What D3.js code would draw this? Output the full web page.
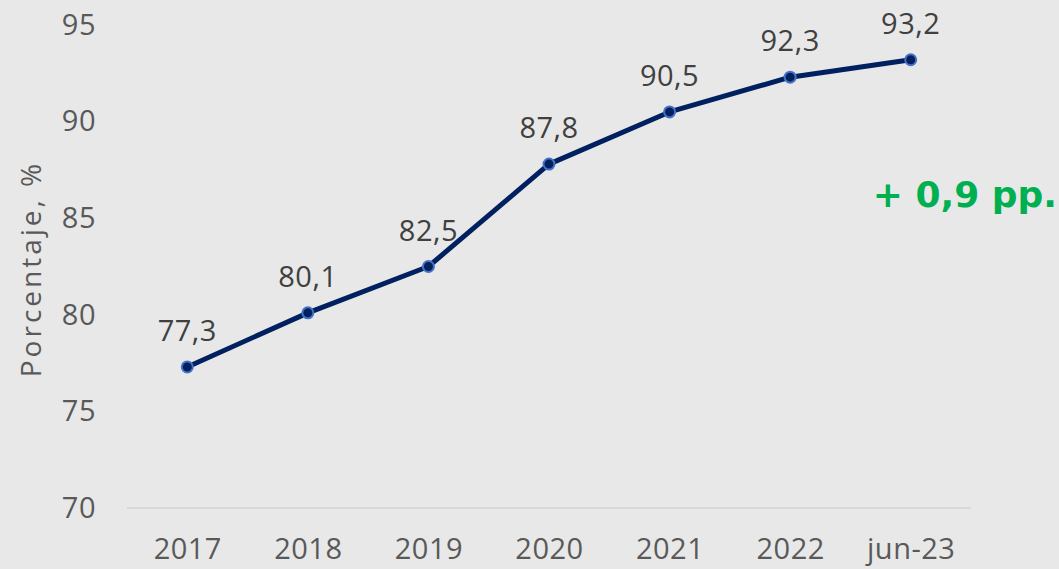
<!DOCTYPE html>
<html><head><meta charset="utf-8">
<script src="https://cdn.jsdelivr.net/npm/d3@7"></script>
<style>
html,body{margin:0;padding:0;background:#e8e8e8;}
svg{display:block;font-family:"Open Sans","Noto Sans",sans-serif;}
</style></head>
<body>
<svg id="chart" width="1059" height="569"></svg>
<script>
const categories = ["2017","2018","2019","2020","2021","2022","jun-23"];
const values = [77.3, 80.1, 82.5, 87.8, 90.5, 92.3, 93.2];
const yTicks = [70, 75, 80, 85, 90, 95];
const yTitle = "Porcentaje, %";
const annotation = "+ 0,9 pp.";

const svg = d3.select("#chart");
svg.append("rect").attr("width",1059).attr("height",569).attr("fill","#e8e8e8");

const x = d3.scalePoint().domain(categories).range([127, 971]).padding(0.5);
const y = d3.scaleLinear().domain([70, 95]).range([508, 25]);
const fmt = v => d3.format(".1f")(v).replace(".", ",");
const textColor = "#595959";

// baseline axis line
svg.append("line").attr("x1",127).attr("x2",971).attr("y1",y(70)).attr("y2",y(70))
  .attr("stroke","#d4d4d4").attr("stroke-width",1.5);

// y axis tick labels
const yAxis = d3.axisLeft(y).tickValues(yTicks).tickSize(0).tickPadding(0).tickFormat(d => d);
const gy = svg.append("g").attr("transform","translate(96,0)").call(yAxis);
gy.select(".domain").remove();
gy.selectAll("text").attr("font-size",29).attr("fill",textColor).attr("font-family","'Open Sans',sans-serif").attr("letter-spacing",0.5);

// x axis tick labels
const xAxis = d3.axisBottom(x).tickSize(0).tickPadding(0);
const gx = svg.append("g").attr("transform",`translate(0,${y(70)+30})`).call(xAxis);
gx.select(".domain").remove();
gx.selectAll("text").attr("font-size",29).attr("fill",textColor).attr("font-family","'Open Sans',sans-serif").attr("letter-spacing",0.5);

// y title
svg.append("text").attr("transform","translate(41,269) rotate(-90)")
  .attr("text-anchor","middle").attr("font-size",28).attr("letter-spacing",3).attr("fill",textColor).text(yTitle);

const data = categories.map((c,i)=>({c, v: values[i]}));

// line
svg.append("path").datum(data)
  .attr("d", d3.line().x(d=>x(d.c)).y(d=>y(d.v)))
  .attr("fill","none").attr("stroke","#002060").attr("stroke-width",5).attr("stroke-linejoin","round");

// markers
svg.selectAll("circle.pt").data(data).join("circle").attr("class","pt")
  .attr("cx",d=>x(d.c)).attr("cy",d=>y(d.v)).attr("r",5.5)
  .attr("fill","#002060").attr("stroke","#4472c4").attr("stroke-width",2);

// data labels
svg.selectAll("text.lbl").data(data).join("text").attr("class","lbl")
  .attr("x",d=>x(d.c)).attr("y",d=>y(d.v)-26)
  .attr("text-anchor","middle").attr("font-size",29).attr("letter-spacing",0.5).attr("fill","#404040")
  .text(d=>fmt(d.v));

// annotation
svg.append("text").attr("x",1057).attr("y",207).attr("text-anchor","end")
  .attr("font-family","'DejaVu Sans',sans-serif")
  .attr("font-size",36).attr("font-weight",700).attr("fill","#00b050").text(annotation);
</script>
</body></html>
